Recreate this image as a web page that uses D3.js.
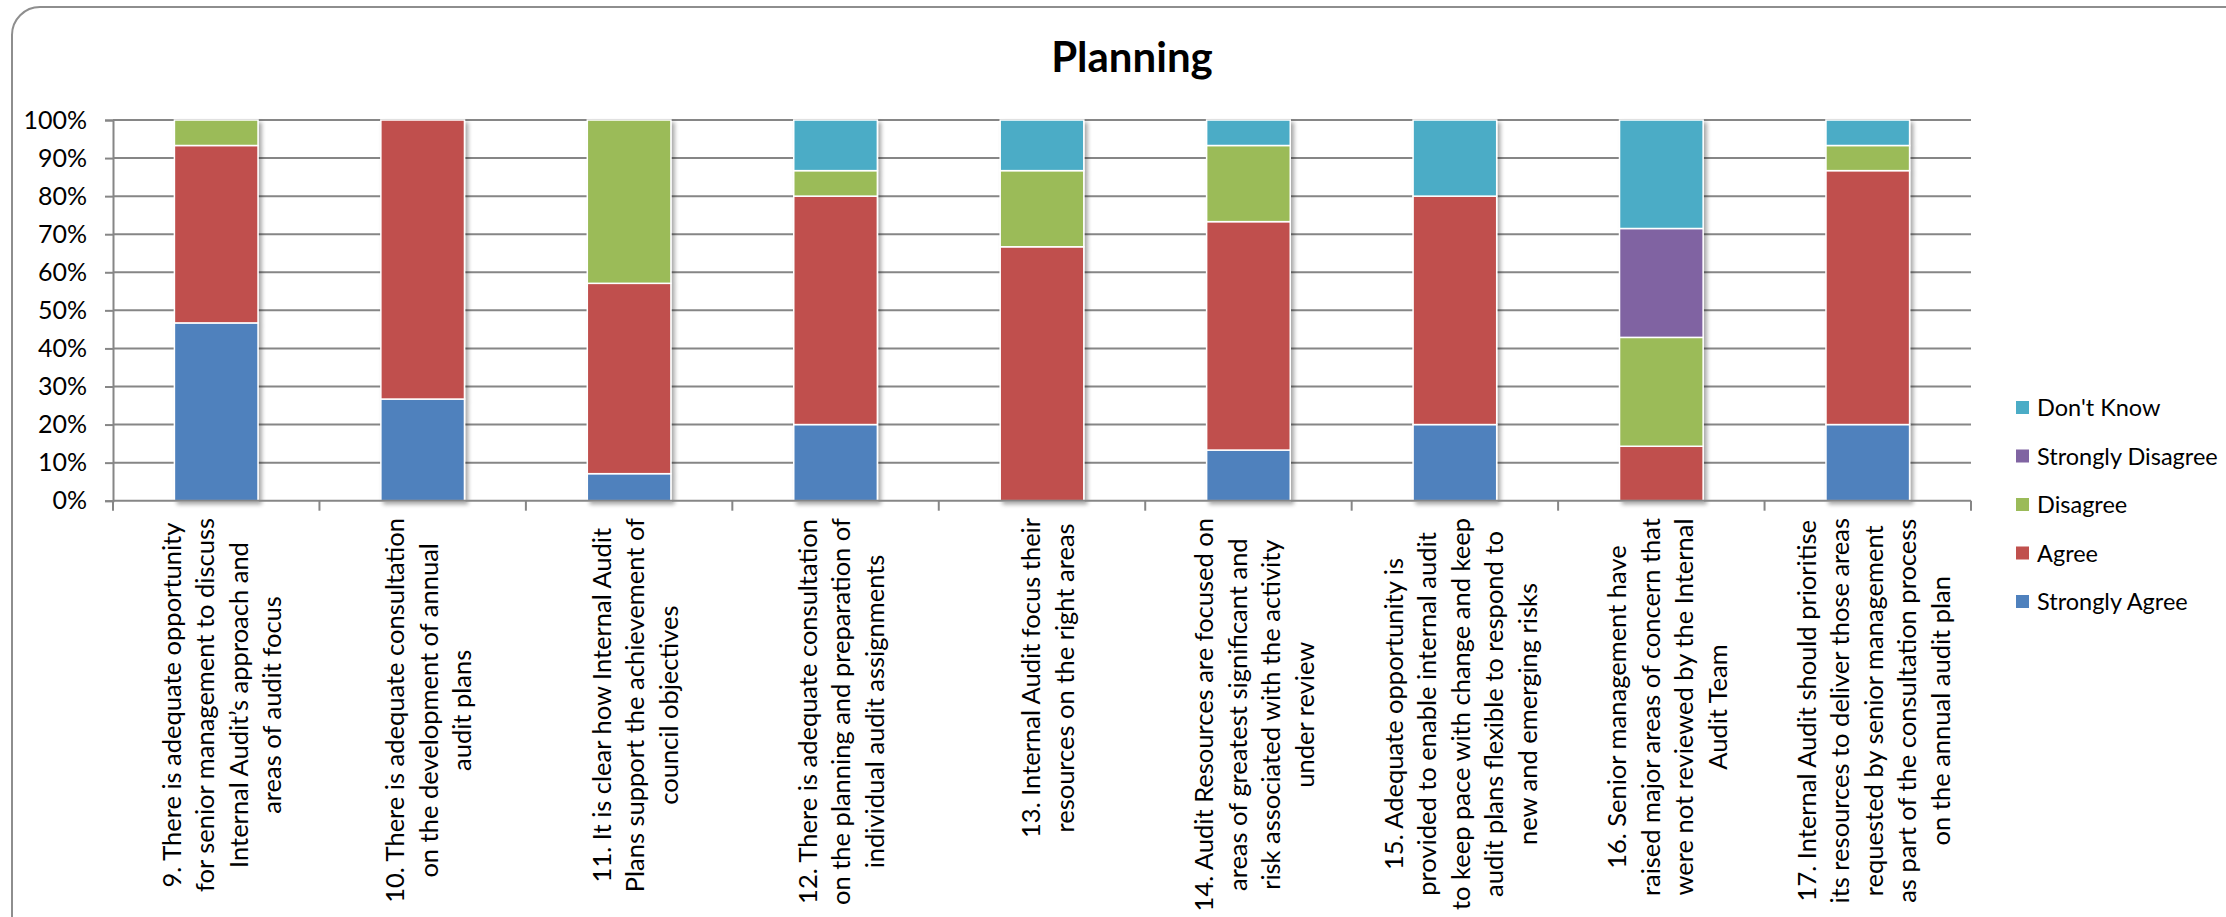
<!DOCTYPE html>
<html>
<head>
<meta charset="utf-8">
<script src="https://cdn.jsdelivr.net/npm/d3@7"></script>
<style>
  html, body { margin: 0; padding: 0; background: #fff; }
  svg { display: block; }
  text { font-family: Lato, "Liberation Sans", sans-serif; fill: #000; }
</style>
</head>
<body>
<svg id="chart" width="2226" height="917"></svg>
<script>
// Survey statements (one entry per question, pre-wrapped into lines)
const categories = [
  ["9. There is adequate opportunity", "for senior management to discuss", "Internal Audit\u2019s approach and", "areas of audit focus"],
  ["10. There is adequate consultation", "on the development of annual", "audit plans"],
  ["11. It is clear how Internal Audit", "Plans support the achievement of", "council objectives"],
  ["12. There is adequate consultation", "on the planning and preparation of", "individual audit assignments"],
  ["13. Internal Audit focus their", "resources on the right areas"],
  ["14. Audit Resources are focused on", "areas of greatest significant and", "risk  associated with the activity", "under review"],
  ["15. Adequate opportunity is", "provided to enable internal audit", "to keep pace with change and keep", "audit plans flexible to respond to", "new and emerging risks"],
  ["16. Senior management have", "raised major areas of concern that", "were not reviewed  by the Internal", "Audit Team"],
  ["17. Internal Audit should prioritise", "its resources to deliver those areas", "requested by senior management", "as part of the consultation process", "on the annual audit plan"]
];

// Share of responses per question (%)
const stronglyAgree    = [46.7, 26.7,  7.1, 20.0,  0.0, 13.3, 20.0,  0.0, 20.0];
const agree            = [46.6, 73.3, 50.0, 60.0, 66.7, 60.0, 60.0, 14.3, 66.7];
const disagree         = [ 6.7,  0.0, 42.9,  6.7, 20.0, 20.0,  0.0, 28.6,  6.6];
const stronglyDisagree = [ 0.0,  0.0,  0.0,  0.0,  0.0,  0.0,  0.0, 28.6,  0.0];
const dontKnow         = [ 0.0,  0.0,  0.0, 13.3, 13.3,  6.7, 20.0, 28.5,  6.7];

const seriesNames = ["Strongly Agree", "Agree", "Disagree", "Strongly Disagree", "Don't Know"];
const seriesColors = ["#4F81BD", "#C0504D", "#9BBB59", "#8064A2", "#4BACC6"];
const yTicks = [0, 10, 20, 30, 40, 50, 60, 70, 80, 90, 100];

const seriesValues = [stronglyAgree, agree, disagree, stronglyDisagree, dontKnow];
const rows = categories.map((c, i) => {
  const r = { idx: i };
  seriesNames.forEach((s, k) => { r[s] = seriesValues[k][i]; });
  return r;
});

const svg = d3.select("#chart");
const plot = { left: 113, right: 1971, top: 120, bottom: 500.7 };

// drop shadow used under the bars
const defs = svg.append("defs");
const f = defs.append("filter").attr("id", "barShadow")
  .attr("x", "-20%").attr("y", "-5%").attr("width", "140%").attr("height", "115%");
f.append("feGaussianBlur").attr("in", "SourceAlpha").attr("stdDeviation", 2.2).attr("result", "blur");
f.append("feOffset").attr("in", "blur").attr("dx", 3).attr("dy", 3).attr("result", "off");
f.append("feComponentTransfer").attr("in", "off").attr("result", "shadow")
  .append("feFuncA").attr("type", "linear").attr("slope", 0.35);
const fm = f.append("feMerge");
fm.append("feMergeNode").attr("in", "shadow");
fm.append("feMergeNode").attr("in", "SourceGraphic");

// chart frame
svg.append("rect")
  .attr("x", 12).attr("y", 7).attr("width", 2260).attr("height", 960)
  .attr("rx", 28).attr("ry", 28)
  .attr("fill", "none").attr("stroke", "#8e8e8e").attr("stroke-width", 2);

// title
svg.append("text")
  .attr("x", 1132).attr("y", 72)
  .attr("text-anchor", "middle")
  .style("font-size", "42px").style("font-weight", "bold")
  .text("Planning");

const x = d3.scaleBand()
  .domain(d3.range(categories.length))
  .range([plot.left, plot.right])
  .paddingInner(0.595)
  .paddingOuter(0.2975);

const y = d3.scaleLinear().domain([0, 100]).range([plot.bottom, plot.top]);

// horizontal gridlines
svg.append("g")
  .selectAll("line")
  .data(yTicks.filter(t => t > 0))
  .join("line")
  .attr("x1", plot.left).attr("x2", plot.right)
  .attr("y1", d => y(d)).attr("y2", d => y(d))
  .attr("stroke", "#868686").attr("stroke-width", 2);

// y axis
const yAxis = svg.append("g")
  .attr("transform", `translate(${plot.left},0)`)
  .call(d3.axisLeft(y).tickValues(yTicks).tickFormat(d => d + "%").tickSize(8).tickPadding(18));
yAxis.select(".domain").attr("stroke", "#868686").attr("stroke-width", 2);
yAxis.selectAll(".tick line").attr("stroke", "#868686").attr("stroke-width", 2);
yAxis.selectAll(".tick text")
  .style("font-family", "Lato, 'Liberation Sans', sans-serif")
  .style("font-size", "25px").attr("fill", "#000");

// stacked bars
const stack = d3.stack().keys(seriesNames);
const stacked = stack(rows);

const barsG = svg.append("g").attr("filter", "url(#barShadow)");
barsG.selectAll("g.series")
  .data(stacked)
  .join("g")
  .attr("class", "series")
  .attr("fill", (d, i) => seriesColors[i])
  .selectAll("rect")
  .data(d => d.filter(p => p[1] - p[0] > 0))
  .join("rect")
  .attr("x", d => x(d.data.idx))
  .attr("width", x.bandwidth())
  .attr("y", d => y(d[1]))
  .attr("height", d => y(d[0]) - y(d[1]))
  .attr("stroke", "#fff").attr("stroke-width", 1.5);

// x axis baseline with ticks at category boundaries
const xAxisG = svg.append("g");
xAxisG.append("line")
  .attr("x1", plot.left).attr("x2", plot.right)
  .attr("y1", plot.bottom).attr("y2", plot.bottom)
  .attr("stroke", "#868686").attr("stroke-width", 2);
const step = x.step();
xAxisG.selectAll("line.tk")
  .data(d3.range(categories.length + 1))
  .join("line")
  .attr("class", "tk")
  .attr("x1", i => plot.left + i * step).attr("x2", i => plot.left + i * step)
  .attr("y1", plot.bottom).attr("y2", plot.bottom + 10)
  .attr("stroke", "#868686").attr("stroke-width", 2);

// rotated category labels, lines centred on each other
const lineGap = 33.5;
const labelTop = 518;
categories.forEach((lines, i) => {
  const cx = x(i) + x.bandwidth() / 2 + 6;
  const g = svg.append("g").attr("transform", `translate(${cx},${labelTop}) rotate(-90)`);
  const texts = g.selectAll("text")
    .data(lines)
    .join("text")
    .attr("y", (d, k) => (k - (lines.length - 1) / 2) * lineGap)
    .attr("dy", "0.35em")
    .attr("text-anchor", "middle")
    .style("font-size", "25.5px")
    .text(d => d);
  let maxLen = 0;
  texts.each(function () { maxLen = Math.max(maxLen, this.getComputedTextLength()); });
  texts.attr("x", -maxLen / 2);
});

// legend (top entry is the top of the stack)
const legend = svg.append("g");
const legendOrder = seriesNames.map((s, i) => ({ name: s, color: seriesColors[i] })).reverse();
const legendItems = legend.selectAll("g")
  .data(legendOrder)
  .join("g")
  .attr("transform", (d, i) => `translate(2016,${408 + i * 48.5})`);
legendItems.append("rect")
  .attr("x", 0).attr("y", -7).attr("width", 13).attr("height", 13)
  .attr("fill", d => d.color);
legendItems.append("text")
  .attr("x", 21).attr("dy", "0.35em")
  .style("font-size", "23.5px")
  .text(d => d.name);
</script>
</body>
</html>
